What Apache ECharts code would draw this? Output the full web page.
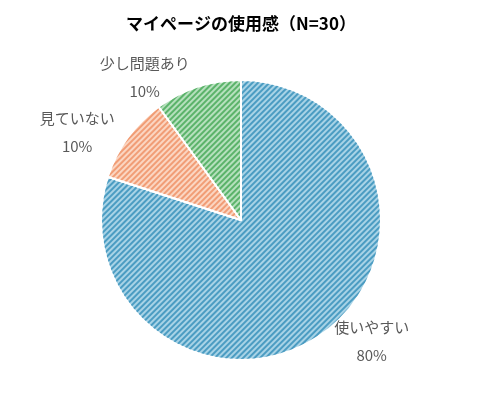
<!DOCTYPE html><html><head><meta charset="utf-8"><script src="https://cdn.jsdelivr.net/npm/echarts@6/dist/echarts.min.js"></script></head><body style="margin:0"><div id="c" style="width:482px;height:400px"></div><script>
var categories=['使いやすい','見ていない','少し問題あり'];
var values=[80,10,10];
var base=['#a8d3e6','#fbd6c2','#b6e0bd'];
var stripe=['#4b9cc2','#f19d76','#5bb36a'];
var chart=echarts.init(document.getElementById('c'));
chart.setOption({
 title:{text:'マイページの使用感（N=30）',left:'center',top:10,textStyle:{fontFamily:'Noto Sans CJK JP',fontSize:17,fontWeight:'bold',color:'#000'}},
 series:[{type:'pie',center:[241,220],radius:140,startAngle:90,clockwise:true,
  data:categories.map(function(n,i){return {name:n,value:values[i],itemStyle:{color:base[i],decal:{symbol:'rect',color:stripe[i],dashArrayX:[1,0],dashArrayY:[2,2],rotation:-Math.PI/4,symbolSize:1}}};}),
  itemStyle:{borderColor:'#fff',borderWidth:2},
  label:{formatter:'{a|{b}}\n{a|{c}%}',rich:{a:{align:'center',color:'#595959',fontSize:15,lineHeight:28,fontFamily:'Noto Sans CJK JP'}}},
  labelLine:{show:false,length:10,length2:0},
  emphasis:{disabled:true}
 }],
 aria:{enabled:true,decal:{show:true}}
});
</script></body></html>
